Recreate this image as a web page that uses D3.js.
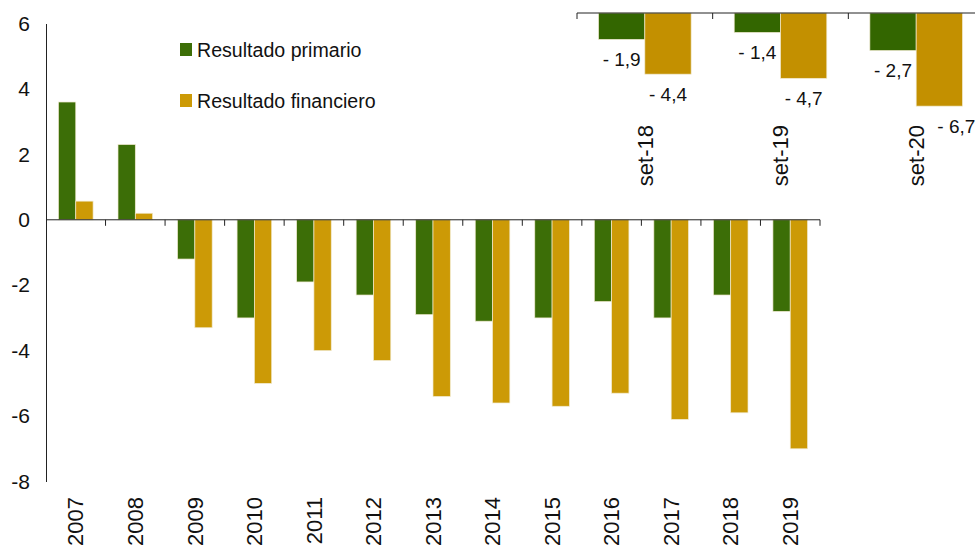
<!DOCTYPE html>
<html>
<head>
<meta charset="utf-8">
<script src="https://cdn.jsdelivr.net/npm/d3@7"></script>
<style>
  html, body { margin: 0; padding: 0; background: #fff; }
  svg { display: block; font-family: "Liberation Sans", Arial, sans-serif; }
</style>
</head>
<body>
<div id="chart"></div>
<script>
const years = ['2007', '2008', '2009', '2010', '2011', '2012', '2013', '2014', '2015', '2016', '2017', '2018', '2019'];
const primario = [3.6, 2.3, -1.2, -3.0, -1.9, -2.3, -2.9, -3.1, -3.0, -2.5, -3.0, -2.3, -2.8];
const financiero = [0.57, 0.2, -3.3, -5.0, -4.0, -4.3, -5.4, -5.6, -5.7, -5.3, -6.1, -5.9, -7.0];

const months = ['set-18', 'set-19', 'set-20'];
const primarioSet = [-1.9, -1.4, -2.7];
const financieroSet = [-4.4, -4.7, -6.7];

const seriesNames = ['Resultado primario', 'Resultado financiero'];
const yTicks = [-8, -6, -4, -2, 0, 2, 4, 6];

const width = 975, height = 550;
const COLORS = { primary: '#3c6e07', financial: '#cc9a06' };
const INSET_COLORS = { primary: '#336600', financial: '#c39000' };

const svg = d3.select('#chart')
  .append('svg')
  .attr('width', width)
  .attr('height', height);

// ---- main chart ----
const x0 = d3.scaleBand().domain(years).range([46, 820]);
const x1 = d3.scaleBand().domain(seriesNames).range([0, x0.bandwidth()]).paddingOuter(0.72);
const y = d3.scaleLinear().domain([-8, 6]).range([481.5, 23.5]);

const rows = years.map((yr, i) => ({ key: yr, vals: [primario[i], financiero[i]] }));

const groups = svg.append('g')
  .selectAll('g')
  .data(rows)
  .join('g')
  .attr('transform', d => `translate(${x0(d.key)},0)`);

groups.selectAll('rect')
  .data(d => d.vals.map((v, j) => ({ name: seriesNames[j], v, j })))
  .join('rect')
  .attr('x', d => x1(d.name))
  .attr('width', x1.bandwidth())
  .attr('y', d => y(Math.max(0, d.v)))
  .attr('height', d => Math.abs(y(d.v) - y(0)))
  .attr('fill', d => d.j === 0 ? COLORS.primary : COLORS.financial)
  .attr('stroke', '#f1ead0')
  .attr('stroke-width', 0.7);

// y axis (plain hyphen for negatives, like the original)
const yAxis = svg.append('g')
  .attr('transform', 'translate(46,0)')
  .call(d3.axisLeft(y).tickValues(yTicks).tickSize(0).tickPadding(16).tickFormat(d => String(d)));
yAxis.select('.domain').attr('stroke', '#222');
yAxis.selectAll('text').attr('font-size', '21px').attr('fill', '#111').attr('font-family', null);

// x axis line with ticks on category boundaries
const xAxisG = svg.append('g');
xAxisG.append('line')
  .attr('x1', x0.range()[0]).attr('x2', x0.range()[1])
  .attr('y1', y(0)).attr('y2', y(0))
  .attr('stroke', '#222');
xAxisG.selectAll('line.tick')
  .data(years.slice(1).map(d => x0(d)).concat([x0.range()[1]]))
  .join('line')
  .attr('class', 'tick')
  .attr('x1', d => d).attr('x2', d => d)
  .attr('y1', y(0)).attr('y2', y(0) + 6)
  .attr('stroke', '#222');

// x labels (rotated)
const xLab = svg.append('g')
  .attr('transform', 'translate(0,497)')
  .call(d3.axisBottom(x0).tickSize(0));
xLab.select('.domain').remove();
xLab.selectAll('text')
  .attr('x', 0).attr('y', 0).attr('dy', '0.35em')
  .attr('transform', 'rotate(-90)')
  .style('text-anchor', 'end')
  .attr('font-size', '22px')
  .attr('fill', '#111')
  .attr('font-family', null);

// legend
const legend = svg.append('g');
seriesNames.forEach((name, i) => {
  const ly = 50 + i * 51;
  legend.append('rect')
    .attr('x', 180).attr('y', ly - 7)
    .attr('width', 12).attr('height', 13)
    .attr('fill', i === 0 ? COLORS.primary : COLORS.financial);
  legend.append('text')
    .attr('x', 197).attr('y', ly)
    .attr('dy', '0.35em')
    .attr('font-size', '19.6px')
    .attr('fill', '#111')
    .text(name);
});

// ---- inset (set-18..set-20) ----
const ix0 = d3.scaleBand().domain(months).range([577, 984]);
const ix1 = d3.scaleBand().domain(seriesNames).range([0, ix0.bandwidth()]).paddingOuter(0.465);
const iy = d3.scaleLinear().domain([0, -7]).range([13, 110.3]);

const irows = months.map((m, i) => ({ key: m, vals: [primarioSet[i], financieroSet[i]] }));
const fmt = v => '- ' + Math.abs(v).toFixed(1).replace('.', ',');

const igroups = svg.append('g')
  .selectAll('g')
  .data(irows)
  .join('g')
  .attr('transform', d => `translate(${ix0(d.key)},0)`);

igroups.selectAll('rect')
  .data(d => d.vals.map((v, j) => ({ name: seriesNames[j], v, j })))
  .join('rect')
  .attr('x', d => ix1(d.name))
  .attr('width', ix1.bandwidth())
  .attr('y', iy(0))
  .attr('height', d => iy(d.v) - iy(0))
  .attr('fill', d => d.j === 0 ? INSET_COLORS.primary : INSET_COLORS.financial)
  .attr('stroke', '#f1ead0')
  .attr('stroke-width', 0.7);

igroups.selectAll('text')
  .data((d, gi) => d.vals.map((v, j) => ({ name: seriesNames[j], v, last: gi === months.length - 1 && j === 1 })))
  .join('text')
  .attr('x', d => ix1(d.name) + ix1.bandwidth() / 2 + (d.last ? 17 : 0))
  .attr('y', d => iy(d.v) + 20)
  .attr('dy', '0.35em')
  .attr('text-anchor', 'middle')
  .attr('font-size', '19px')
  .attr('fill', '#111')
  .text(d => fmt(d.v));

const iAxis = svg.append('g');
iAxis.append('line')
  .attr('x1', ix0.range()[0]).attr('x2', ix0.range()[1])
  .attr('y1', iy(0)).attr('y2', iy(0))
  .attr('stroke', '#222');
iAxis.selectAll('line.tick')
  .data(months.map(d => ix0(d)).concat([ix0.range()[1]]))
  .join('line')
  .attr('class', 'tick')
  .attr('x1', d => d).attr('x2', d => d)
  .attr('y1', iy(0)).attr('y2', iy(0) + 6)
  .attr('stroke', '#222');

const iLab = svg.append('g')
  .attr('transform', 'translate(0,125)')
  .call(d3.axisBottom(ix0).tickSize(0));
iLab.select('.domain').remove();
iLab.selectAll('text')
  .attr('x', 0).attr('y', 0).attr('dy', '0.35em')
  .attr('transform', 'rotate(-90)')
  .style('text-anchor', 'end')
  .attr('font-size', '22px')
  .attr('fill', '#111')
  .attr('font-family', null);
</script>
</body>
</html>
